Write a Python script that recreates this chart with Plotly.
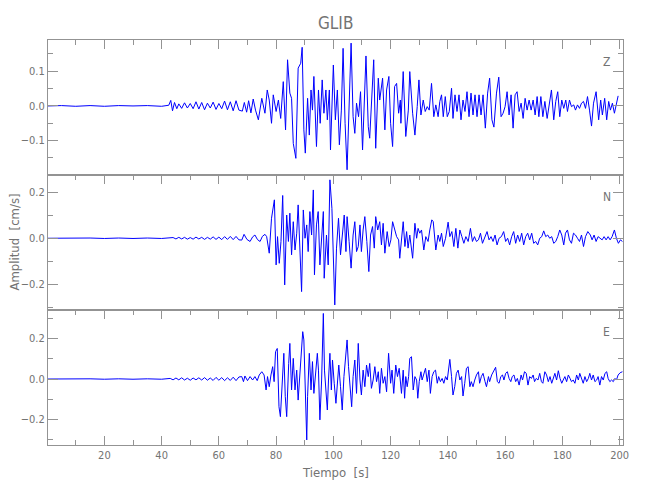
import plotly.graph_objects as go

# ---------------- data ----------------
z_time = [0.3, 5, 10, 15, 20, 25, 30, 35, 40, 42.5, 43.2, 43.8, 44.5, 45.3, 46.0, 47.0, 48.0, 49.0, 50.0,
          51.0, 52.0, 53.0, 54.0, 55.0, 56.0, 57.0, 58.0, 59.0, 60.0, 61.0, 62.0, 63.0, 64.0, 65.0, 66.0, 67.0,
          68.2, 68.9, 69.7, 70.4, 71.2, 72.0, 72.8, 73.8, 75.0, 76.1, 76.9, 77.6, 78.4, 79.0, 80.0, 80.8,
          81.6, 82.5, 83.3, 84.0, 84.8, 85.4, 86.0, 86.9, 87.7, 88.6, 89.1, 89.7, 90.2, 91.0, 91.6, 92.2,
          92.7, 93.2, 94.1, 94.8, 95.4, 96.1, 96.7, 97.4, 97.9, 98.6, 99.0, 100.0, 100.7, 101.4, 102.1,
          102.8, 103.4, 104.1, 104.8, 105.5, 106.2, 106.9, 107.5, 108.1, 108.8, 109.5, 110.2, 111.4, 112.2,
          112.7, 113.3, 114.1, 114.8, 115.7, 116.2, 117.2, 118.0, 118.6, 119.4, 120.0, 120.7, 121.4, 122.1,
          122.8, 123.4, 123.6, 124.4, 125.3, 126.2, 126.7, 127.7, 128.5, 129.3, 129.9, 130.6, 131.4, 132.1,
          132.8, 133.5, 134.3, 135.1, 135.8, 136.6, 137.2, 137.8, 138.4, 139.1, 139.8, 140.5, 141.3, 141.8,
          142.5, 143.2, 143.9, 144.6, 145.3, 146.0, 146.7, 147.4, 148.1, 148.8, 149.5, 150.2, 150.9, 151.6,
          152.3, 153.1, 153.9, 154.6, 155.4, 156.1, 157.0, 157.8, 158.6, 159.3, 160.0, 160.7, 161.4, 162.1,
          162.8, 163.5, 164.2, 164.9, 165.6, 166.3, 167.0, 167.7, 168.4, 169.1, 169.8, 170.5, 171.2, 171.8,
          172.5, 173.2, 173.9, 174.7, 175.3, 176.2, 177.0, 177.7, 178.4, 179.1, 179.8, 180.5, 181.2, 181.8,
          182.5, 183.2, 184.0, 184.6, 185.3, 186.0, 186.7, 187.4, 188.1, 188.8, 189.5, 190.2, 190.9, 191.8,
          192.7, 193.4, 194.0, 194.8, 195.5, 196.2, 196.8, 197.5, 198.2, 198.9, 199.5]
z_amp = [0, 0.001, -0.001, 0.001, -0.001, 0.001, 0, 0.001, -0.001, 0.002, 0.016, -0.014, 0.010, -0.008,
         0.006, -0.007, 0.009, -0.006, 0.007, -0.008, 0.012, -0.009, 0.010, -0.011, 0.008, -0.006, 0.011,
         -0.010, 0.007, -0.008, 0.014, -0.011, 0.012, -0.014, 0.015, -0.012,
         -0.015, 0.010, -0.018, 0.015, -0.020, 0.020, -0.012, -0.040, 0.022, -0.021, 0.046, 0.017, -0.050,
         0.032, -0.016, 0.017, -0.036, 0.070, -0.069, 0.133, 0.037, 0.022, -0.108, -0.151, 0.109, 0.123,
         0.169, -0.069, -0.136, 0.022, -0.084, 0.046, -0.012, 0.085, -0.117, 0.046, -0.050, 0.075, -0.021,
         0.046, -0.040, 0.046, -0.127, 0.118, -0.040, 0.046, -0.112, -0.012, 0.166, -0.050, -0.184, -0.002,
         0.181, -0.031, -0.079, 0.008, -0.031, 0.041, -0.127, 0.144, -0.060, -0.093, -0.002, 0.133, -0.122,
         0.080, 0.017, 0.080, -0.069, 0.046, 0.085, -0.050, -0.117, 0.056, 0.065, -0.021, 0.017,
         -0.050, 0.099, -0.088, -0.012, 0.099, -0.021, -0.084, -0.002, 0.075, -0.026, 0.017, -0.016,
         -0.002, -0.012, 0.065, -0.031, 0.003, -0.031, 0.013, 0.032, -0.031, 0.027, -0.031, -0.016, 0.051,
         -0.036, 0.032, -0.016, 0.032, -0.040, 0.017, -0.016, 0.041, -0.031, 0.037, -0.026, 0.032, -0.031,
         0.032, -0.026, 0.032, -0.064, 0.037, 0.080, -0.040, -0.061, 0.037, 0.083, -0.031, -0.021, -0.002,
         0.041, -0.026, 0.032, -0.064, 0.032, 0.041, -0.016, 0.008, -0.036, 0.022, -0.012, 0.017, -0.012,
         0.017, -0.026, 0.027, -0.031, 0.027, -0.031, 0.013, -0.036, -0.002, 0.046, -0.040, 0.013, 0.041,
         -0.031, 0.017, -0.007, 0.017, -0.016, 0.017, -0.002, 0.003, -0.012, 0.003, -0.007, 0.008, 0.013,
         -0.007, 0.027, -0.012, -0.058, 0.008, 0.041, -0.040, 0.017, -0.026, 0.022, -0.040, 0.013, -0.012,
         0.008, -0.021, 0.003, 0.029]

n_time = [0.3, 5, 10, 15, 20, 25, 30, 35, 40, 44, 45, 46, 47, 48, 49, 50, 51, 52, 53, 54, 55, 56, 57, 58,
          59, 60, 61, 62, 63, 64, 65, 66, 67,
          68.0, 68.8, 69.8, 70.9, 71.8, 72.6, 73.5, 74.4, 75.2, 76.1, 76.7, 77.6, 78.4, 79.4, 80.0, 80.5,
          81.1, 81.7, 82.3, 83.0, 83.7, 84.3, 84.8, 85.4, 86.0, 86.6, 87.2, 87.7, 88.3, 88.9, 89.5, 90.1,
          90.7, 91.2, 91.8, 92.4, 93.0, 93.4, 94.1, 94.7, 95.3, 95.9, 96.5, 96.8, 97.6, 98.2, 98.8, 99.5,
          100.0, 100.5, 101.1, 101.8, 102.5, 103.2, 103.8, 104.4, 104.8, 105.5, 106.2, 106.9, 107.5, 108.1,
          108.7, 109.3, 109.8, 110.4, 111.0, 111.7, 112.4, 113.0, 113.7, 114.3, 114.8, 115.5, 116.2, 116.8,
          117.4, 118.0, 118.8, 119.5, 120.1, 120.7, 121.4, 122.1, 122.8, 123.2,
          124.4, 125.0, 125.6, 126.1, 126.7, 127.7, 128.5, 129.1, 129.6, 130.2, 130.8, 131.6, 132.3, 133.1,
          133.7, 134.4, 134.9, 135.3, 135.8, 136.6, 137.2, 137.8, 138.4, 139.2, 140.1, 140.7, 141.4, 142.1,
          142.8, 143.5, 144.2, 144.9, 145.6, 146.3, 147.1, 147.9, 148.6, 149.3, 150.0, 150.7, 151.4, 152.1,
          152.9, 153.7, 154.4, 155.1, 155.8, 156.5, 157.2, 157.9, 158.7, 159.5, 160.2, 160.9, 161.6, 162.3,
          163.0, 163.7, 164.4, 165.1, 165.8, 166.5, 167.2, 167.9, 168.6, 169.3, 170.0, 170.7, 171.4, 172.1,
          172.8, 173.5, 174.2, 174.9, 175.6, 176.3, 177.0, 177.7, 178.4, 179.1, 179.8, 180.5, 181.1, 181.8,
          182.5, 183.2, 183.9, 184.6, 185.3, 186.0, 186.7, 187.4, 188.1, 188.9, 189.8, 190.4, 191.1, 191.8,
          192.5, 193.2, 193.9, 194.6, 195.3, 196.0, 196.7, 197.4, 198.2, 198.9, 199.6, 200.3, 201.0]
n_amp = [0, 0.001, -0.001, 0.001, -0.001, 0.001, -0.001, 0.001, -0.001, 0.003, -0.003, 0.004, -0.003,
         0.004, -0.004, 0.003, -0.004, 0.005, -0.003, 0.004, -0.005, 0.004, -0.004, 0.006, -0.005, 0.005,
         -0.006, 0.007, -0.005, 0.008, -0.006, 0.008, -0.007,
         -0.008, 0.017, -0.005, -0.014, 0.006, 0.014, -0.006, -0.014, 0.008, 0.017, 0.007, -0.065, 0.087,
         0.167, -0.116, 0.007, -0.109, -0.014, 0.186, -0.203, 0.101, -0.014, 0.109, -0.072, 0.072, -0.051,
         0.022, 0.145, -0.072, -0.232, 0.123, 0.0, 0.058, -0.058, 0.116, 0.014, 0.210, -0.159, 0.058,
         0.116, -0.116, 0.014, 0.116, -0.174, 0.014, -0.116, 0.254, 0.130, -0.058, -0.290, -0.043, 0.087,
         -0.072, 0.036, 0.101, -0.058, 0.094, -0.014, -0.130, 0.014, 0.072, -0.058, -0.036, 0.058, -0.058,
         0.036, 0.094, -0.014, -0.145, 0.014, 0.051, -0.043, 0.094, 0.036, 0.072, -0.029, 0.065, -0.065,
         0.029, -0.036, -0.007, 0.072, 0.036, 0.007, -0.007, -0.087,
         0.072, -0.036, 0.029, -0.043, 0.014, -0.087, 0.065, 0.0, 0.043, 0.022, 0.036, -0.051, 0.007,
         -0.014, 0.036, 0.080, 0.072, 0.022, -0.051, 0.014, -0.014, 0.022, -0.036, 0.0, 0.070, 0.007,
         0.029, -0.036, 0.043, -0.043, 0.036, 0.007, -0.022, 0.007, -0.014, 0.043, -0.014, 0.007, -0.014,
         -0.007, 0.022, -0.022, 0.0, 0.029, -0.007, 0.007, -0.014, 0.014, -0.029, 0.0, 0.007, 0.029,
         -0.014, 0.0, -0.029, 0.007, 0.029, -0.022, 0.014, -0.014, 0.022, -0.029, 0.007, 0.022, -0.007,
         0.022, -0.022, -0.014, -0.029, 0.0, 0.007, 0.032, 0.007, 0.014, 0.0, 0.007, -0.022, -0.014,
         0.007, 0.036, 0.014, -0.029, 0.022, 0.036, -0.007, -0.022, 0.022, 0.014, 0.0, -0.014, 0.014,
         -0.036, 0.007, 0.029, 0.014, -0.007, 0.014, -0.014, 0.007, 0.0, -0.007, 0.007, -0.007, 0.007,
         -0.007, 0.007, 0.036, 0.0, -0.022, -0.007, -0.014]

e_time = [0.3, 5, 10, 15, 20, 25, 30, 35, 40, 43, 44, 45, 46, 47, 48, 49, 50, 51, 52, 53, 54, 55, 56, 57,
          58, 59, 60, 61, 62, 63, 64, 65, 66, 67,
          68.0, 68.6, 69.1, 70.0, 70.9, 71.8, 72.6, 73.4, 74.1, 75.0, 75.8, 76.5, 77.0, 77.6, 78.2, 78.8,
          79.3, 79.8, 80.4, 81.0, 81.5, 82.2, 82.7, 83.2, 83.7, 84.4, 84.8, 85.4, 86.0, 86.6, 87.2, 87.7,
          88.3, 88.9, 89.3, 89.7, 90.2, 90.7, 91.0, 91.6, 92.2, 92.7, 93.2, 93.9, 94.4, 94.8, 95.3, 95.9,
          96.5, 96.9, 97.4, 97.9, 98.3, 98.8, 99.3, 99.7, 100.3, 100.9, 101.5, 101.9, 102.5, 103.1, 103.7,
          104.4, 104.8, 105.3, 105.8, 106.4, 106.9, 107.5, 108.1, 108.7, 109.3, 109.8, 110.4, 111.0, 111.6,
          112.2, 112.7, 113.3, 113.9, 114.5, 115.1, 115.7, 116.2, 116.8, 117.4, 118.0, 118.6, 119.3, 120.0,
          120.5, 121.1, 121.8, 122.4, 123.0,
          123.8, 124.4, 124.9, 125.3, 125.8, 126.3, 126.7, 127.3, 127.9, 128.5, 129.1, 129.5, 130.0, 130.6,
          131.0, 131.6, 132.2, 132.8, 133.4, 133.9, 134.5, 135.1, 135.7, 136.3, 136.8, 137.4, 138.0, 138.6,
          139.2, 139.8, 140.7, 141.3, 141.8, 142.4, 143.0, 143.6, 144.2, 144.8, 145.3, 145.9, 146.5, 147.1,
          147.7, 148.2, 148.8, 149.4, 150.0, 150.7, 151.1, 151.7, 152.3, 153.0, 153.5, 154.2, 154.6, 155.3,
          156.0, 156.7, 157.3, 157.9, 158.5, 159.1, 159.6, 160.2, 160.8, 161.4, 162.0, 162.5, 163.1, 163.7,
          164.3, 164.9, 165.6, 166.1, 166.8, 167.4, 168.0, 168.6, 169.2, 169.8, 170.3, 170.9, 171.5, 172.1,
          172.7, 173.2, 173.9, 174.5, 175.1, 175.7, 176.3, 176.8, 177.4, 178.0, 178.6, 179.2, 179.8, 180.3,
          180.9, 181.5, 182.1, 182.7, 183.2, 183.8, 184.4, 185.0, 185.6, 186.1, 186.7, 187.3, 187.9, 188.5,
          189.1, 189.6, 190.2, 190.8, 191.4, 192.0, 192.5, 193.1, 193.7, 194.3, 194.9, 195.5, 196.0, 196.6,
          197.2, 197.8, 198.4, 198.9, 199.5, 200.2, 201.0]
e_amp = [0, 0.001, -0.001, 0.001, -0.001, 0.001, -0.001, 0.001, -0.001, 0.003, -0.004, 0.005, -0.004,
         0.006, -0.005, 0.004, -0.006, 0.005, -0.004, 0.006, -0.005, 0.007, -0.006, 0.005, -0.007, 0.008,
         -0.006, 0.007, -0.008, 0.006, -0.007, 0.009, -0.008, 0.010,
         0.012, -0.013, 0.015, -0.008, 0.012, -0.005, 0.012, -0.008, 0.020, 0.036, 0.020, -0.054, 0.012,
         -0.038, 0.020, 0.061, -0.013, 0.135, 0.151, -0.137, -0.186, 0.012, 0.127, -0.087, -0.186, 0.077,
         0.176, -0.054, 0.102, -0.054, 0.044, -0.104, 0.012, 0.110, 0.234, 0.193, -0.071, -0.301, -0.087,
         0.127, -0.054, 0.086, -0.071, 0.028, 0.127, 0.044, -0.202, -0.005, 0.324, 0.044, -0.071, -0.153,
         -0.005, 0.127, -0.054, 0.094, -0.021, -0.120, -0.005, 0.069, -0.038, -0.153, 0.012, 0.110, 0.193,
         0.061, -0.021, -0.137, 0.012, 0.094, -0.071, 0.176, -0.005, -0.079, 0.044, -0.038, 0.069, 0.012,
         0.077, -0.046, -0.005, 0.061, -0.013, 0.036, -0.071, 0.053, -0.021, 0.012, -0.063, 0.127, -0.021,
         0.044, -0.071, 0.069, 0.012, 0.053,
         -0.071, 0.044, -0.095, 0.012, -0.038, 0.012, 0.102, 0.110, -0.054, 0.012, -0.005, -0.095, -0.013,
         0.036, -0.005, 0.020, 0.053, -0.013, 0.044, -0.071, 0.012, 0.036, 0.044, -0.021, 0.012, -0.013,
         0.003, -0.021, 0.012, -0.005, 0.097, 0.012, -0.079, -0.038, 0.028, 0.044, -0.005, 0.012, -0.084,
         -0.021, 0.053, 0.061, -0.038, -0.013, -0.038, -0.005, 0.020, 0.036, -0.021, 0.012, 0.028, -0.013,
         -0.038, 0.012, -0.013, 0.020, 0.036, 0.058, -0.013, -0.021, 0.012, 0.020, -0.005, 0.028, 0.036,
         0.003, -0.013, 0.012, 0.020, -0.013, 0.003, -0.030, 0.020, -0.005, 0.036, 0.028, -0.030, 0.012,
         0.003, 0.020, -0.013, 0.003, -0.005, 0.028, -0.013, -0.021, 0.036, 0.020, -0.013, 0.012, -0.021,
         0.003, 0.028, -0.005, 0.041, 0.003, -0.021, -0.005, 0.012, -0.013, 0.020, 0.003, -0.013, -0.005,
         -0.021, 0.020, -0.005, 0.028, 0.003, -0.021, 0.012, -0.013, 0.003, 0.028, -0.005, 0.020, -0.013,
         -0.005, 0.012, -0.030, 0.012, -0.005, 0.028, 0.036, 0.003, -0.013, -0.005, -0.013, 0.003, -0.005,
         0.020, 0.031, 0.036]

components = ["Z", "N", "E"]
y_ranges = [[-0.199, 0.190], [-0.312, 0.275], [-0.326, 0.341]]
y_major = [0.1, 0.2, 0.2]
y_minor = [0.05, 0.1, 0.1]
x_range = [0.3, 201.2]
title_text = "GLIB"
x_title = "Tiempo  [s]"
y_title = "Amplitud  [cm/s]"

# ---------------- figure ----------------
FONT = "Liberation Sans Narrow, DejaVu Sans Condensed, Arial Narrow, sans-serif"
AX = "#939393"
TXT = "#737373"

fig = go.Figure()
series = [(z_time, z_amp), (n_time, n_amp), (e_time, e_amp)]
for i, (t, a) in enumerate(series):
    fig.add_trace(go.Scatter(x=t, y=a, mode="lines", line=dict(color="#0000ff", width=1),
                             xaxis="x" if i == 0 else f"x{i+1}",
                             yaxis="y" if i == 0 else f"y{i+1}",
                             showlegend=False, hoverinfo="skip"))

domains = [[2/3, 1.0], [1/3, 2/3], [0.0, 1/3]]
# page body adds an 8px offset, so the figure is 640x490 with reduced left/top margins
layout = dict(width=640, height=490, margin=dict(l=40, r=25, t=32, b=53),
              paper_bgcolor="white", plot_bgcolor="white",
              font=dict(family=FONT, color=TXT, size=11), showlegend=False)

for i in range(3):
    sfx = "" if i == 0 else str(i + 1)
    bottom = (i == 2)
    layout["xaxis" + sfx] = dict(
        domain=[0, 1], range=x_range, anchor="y" + sfx,
        side="bottom" if bottom else "top",
        showgrid=False, zeroline=False, showline=True, linecolor=AX, linewidth=1,
        mirror="ticks" if bottom else True,
        ticks="inside", ticklen=9, tickcolor=AX, tickwidth=1,
        tick0=0, dtick=20, showticklabels=bottom,
        tickfont=dict(family=FONT, size=11, color=TXT),
        minor=dict(ticks="inside", dtick=10, tick0=0, ticklen=5, tickcolor=AX, showgrid=False),
    )
    layout["yaxis" + sfx] = dict(
        domain=domains[i], range=y_ranges[i], anchor="x" + sfx,
        showgrid=False, zeroline=False, showline=True, linecolor=AX, linewidth=1,
        mirror="ticks", ticks="inside", ticklen=10, tickcolor=AX, tickwidth=1,
        tick0=0, dtick=y_major[i], tickformat=".1f",
        tickfont=dict(family=FONT, size=11, color=TXT),
        minor=dict(ticks="inside", dtick=y_minor[i], tick0=0, ticklen=5, tickcolor=AX, showgrid=False),
    )

fig.update_layout(**layout)

label_y = [0.946, 0.612, 0.278]
for i, c in enumerate(components):
    fig.add_annotation(text=c, xref="paper", yref="paper", x=0.972, y=label_y[i],
                       showarrow=False, font=dict(family=FONT, size=12, color=TXT),
                       xanchor="center", yanchor="middle")

fig.add_annotation(text=title_text, xref="paper", yref="paper", x=0.5, y=1.043,
                   showarrow=False, font=dict(family=FONT, size=17, color=TXT),
                   xanchor="center", yanchor="middle")
fig.add_annotation(text=x_title, xref="paper", yref="paper", x=0.5, y=-0.069,
                   showarrow=False, font=dict(family=FONT, size=13, color=TXT),
                   xanchor="center", yanchor="middle")
fig.add_annotation(text=y_title, xref="paper", yref="paper", x=-0.059, y=0.5, textangle=-90,
                   showarrow=False, font=dict(family=FONT, size=13, color=TXT),
                   xanchor="center", yanchor="middle")

fig.write_html("out.html")
